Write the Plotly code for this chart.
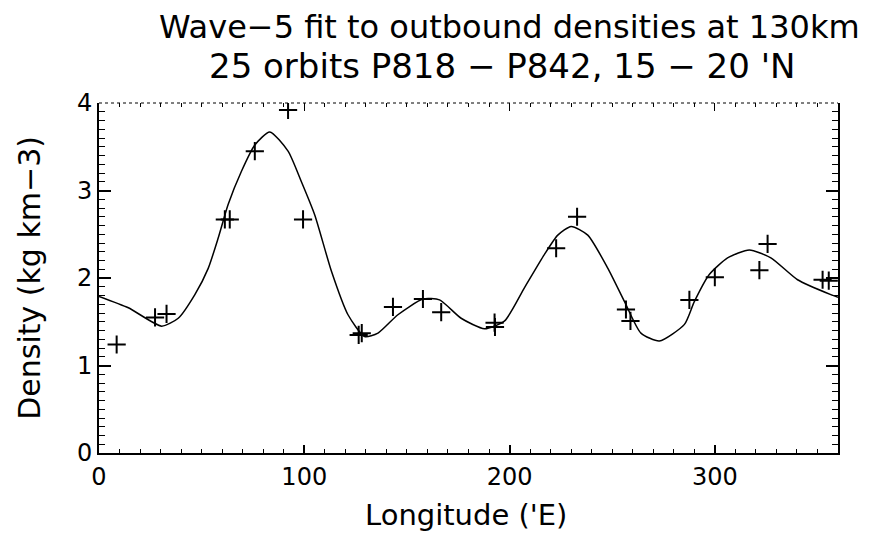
import plotly.graph_objects as go

# Observed densities (crosses)
obs_lon = [8.6, 27.3, 32.9, 61.3, 63.7, 75.9, 92.1, 99.4, 126.5, 128.0, 143.2,
           157.8, 166.7, 192.7, 192.9, 222.7, 232.9, 256.7, 258.9, 287.6, 300.0,
           321.7, 325.7, 352.5, 355.5]
obs_dens = [1.24, 1.55, 1.59, 2.67, 2.67, 3.45, 3.92, 2.67, 1.35, 1.37, 1.67,
            1.76, 1.61, 1.49, 1.44, 2.34, 2.70, 1.64, 1.51, 1.75, 2.01,
            2.09, 2.39, 1.98, 1.97]

# Wave-5 fit curve
fit_lon = [0, 14.3, 30.5, 38.6, 46.7, 53.2, 58.1, 62.9, 69.4, 75.9, 83.2, 92.1,
           98.6, 105.1, 113.2, 121.3, 129.4, 135.9, 145.6, 157.8, 165.9, 176.4,
           187.8, 197.6, 207.3, 217.0, 223.5, 230.0, 238.1, 247.9, 256.0, 264.0,
           273.0, 285.2, 290.0, 297.3, 306.2, 316.8, 327.3, 340.3, 356.5, 360]
fit_dens = [1.79, 1.66, 1.45, 1.54, 1.81, 2.11, 2.46, 2.84, 3.22, 3.52, 3.67, 3.45,
            3.10, 2.72, 2.08, 1.58, 1.33, 1.37, 1.58, 1.76, 1.75, 1.54,
            1.42, 1.51, 1.89, 2.27, 2.49, 2.59, 2.49, 2.11, 1.73, 1.37,
            1.28, 1.47, 1.73, 2.04, 2.23, 2.32, 2.23, 1.98, 1.81, 1.78]

x_ticks = [0, 100, 200, 300]
y_ticks = [0, 1, 2, 3, 4]

title_lines = ["Wave\u22125 fit to outbound densities at 130km",
               "25 orbits P818 \u2212 P842, 15 \u2212 20 'N"]
x_title = "Longitude ('E)"
y_title = "Density (kg km\u22123)"

FONT = "DejaVu Sans"

fig = go.Figure()
fig.add_trace(go.Scatter(x=fit_lon, y=fit_dens, mode="lines",
                         line=dict(color="black", width=1.5, shape="spline", smoothing=0.6),
                         hoverinfo="skip", showlegend=False))
fig.add_trace(go.Scatter(x=obs_lon, y=obs_dens, mode="markers",
                         marker=dict(symbol="cross-thin-open", size=13, color="black",
                                     line=dict(color="black", width=2)),
                         showlegend=False))

fig.update_layout(
    width=886, height=538,
    margin=dict(l=91, r=56, t=95, b=93),
    paper_bgcolor="white", plot_bgcolor="white",
    font=dict(family=FONT, color="black"),
    xaxis=dict(range=[0, 360], tickvals=x_ticks, ticks="inside", ticklen=8,
               tickwidth=1.5, tickcolor="black", showline=True, linewidth=2,
               linecolor="black", mirror=False, showgrid=False, zeroline=False,
               tickfont=dict(size=24, family=FONT), ticklabelstandoff=1,
               minor=dict(dtick=10, ticks="inside", ticklen=4, tickwidth=1.2,
                          tickcolor="black", showgrid=False)),
    xaxis2=dict(range=[0, 360], overlaying="x", side="top", matches="x",
                tickvals=x_ticks, ticks="inside", ticklen=8, tickwidth=1.2,
                tickcolor="black", showline=False, showgrid=False,
                zeroline=False, showticklabels=False,
                minor=dict(dtick=10, ticks="inside", ticklen=4, tickwidth=1,
                           tickcolor="black", showgrid=False)),
    yaxis=dict(range=[0, 4], tickvals=y_ticks, ticks="inside", ticklen=12,
               tickwidth=1.5, tickcolor="black", showline=True, linewidth=2,
               linecolor="black", mirror="ticks", showgrid=False, zeroline=False,
               tickfont=dict(size=24, family=FONT),
               minor=dict(dtick=0.1, ticks="inside", ticklen=6, tickwidth=1.2,
                          tickcolor="black", showgrid=False)),
    shapes=[dict(type="line", xref="paper", yref="paper", x0=0, x1=1, y0=1, y1=1,
                 line=dict(color="black", width=1, dash="dot"))],
    annotations=[
        dict(text=title_lines[0], xref="paper", yref="paper", x=0.556, y=1.217,
             showarrow=False, xanchor="center", yanchor="middle",
             font=dict(size=32, family=FONT)),
        dict(text=title_lines[1], xref="paper", yref="paper", x=0.545, y=1.107,
             showarrow=False, xanchor="center", yanchor="middle",
             font=dict(size=34, family=FONT)),
        dict(text=x_title, xref="paper", yref="paper", x=0.497, y=-0.177,
             showarrow=False, xanchor="center", yanchor="middle",
             font=dict(size=29, family=FONT)),
        dict(text=y_title, xref="paper", yref="paper", x=-0.095, y=0.50,
             showarrow=False, xanchor="center", yanchor="middle", textangle=-90,
             font=dict(size=30, family=FONT)),
    ],
)
# invisible trace attached to the top axis so its ticks render
fig.add_trace(go.Scatter(x=[0], y=[0], xaxis="x2", mode="markers",
                         marker=dict(opacity=0), hoverinfo="skip", showlegend=False))

fig.write_html("out.html")
